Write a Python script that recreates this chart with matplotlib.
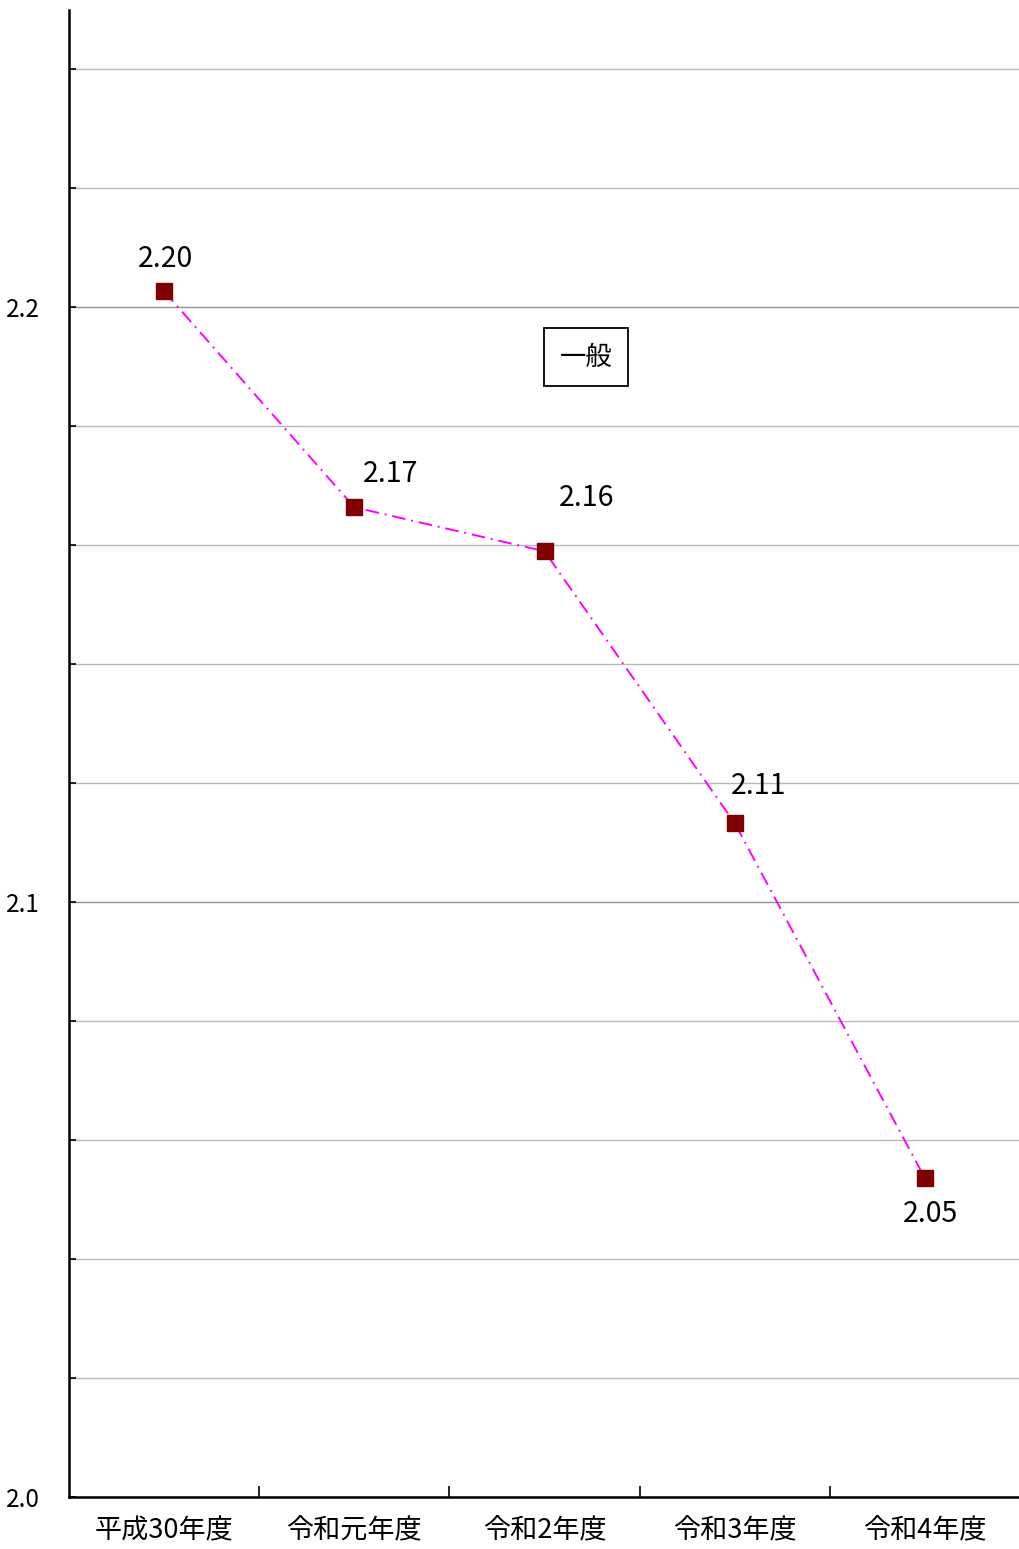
import numpy as np
import matplotlib.pyplot as plt
from matplotlib.ticker import MultipleLocator, FixedLocator, NullFormatter

plt.rcParams['font.family'] = ['Noto Sans CJK JP', 'DejaVu Sans']

# data
categories = ['平成30年度', '令和元年度', '令和2年度', '令和3年度', '令和4年度']
values = [2.2027, 2.1664, 2.1590, 2.1133, 2.0536]
series_name = '一般'

# label offsets (points) relative to each marker
label_offsets = [(1, 23), (26, 24), (30, 38), (17, 27), (4, -26)]

fig = plt.figure(figsize=(10.2, 15.49), dpi=100)
ax = fig.add_axes([69/1020, 52/1549, 951/1020, 1487/1549])

x = np.arange(len(categories))
ax.plot(x, values, color='#ff00ff', lw=1.4, linestyle=(0, (7, 3, 1, 3)),
        marker='s', markersize=11, markerfacecolor='#800000',
        markeredgecolor='#800000', zorder=3)

for xi, v, off in zip(x, values, label_offsets):
    ax.annotate('%.2f' % v, (xi, v), xytext=off, textcoords='offset points',
                ha='center', va='center', fontsize=20.5)

ax.set_xlim(-0.5, len(categories) - 0.5)
ax.set_ylim(2.0, 2.25)

# y axis: gridlines every 0.02, labels at 0.1
ax.yaxis.set_major_locator(FixedLocator([2.0, 2.1, 2.2]))
ax.yaxis.set_major_formatter(plt.FuncFormatter(lambda v, p: '%.1f' % v))
ax.yaxis.set_minor_locator(MultipleLocator(0.02))
ax.tick_params(axis='y', which='both', direction='in', length=5, width=1.2)
ax.tick_params(axis='y', which='major', labelsize=17.5, pad=21)
ax.grid(axis='y', which='minor', color='#b8b8b8', lw=1)
ax.grid(axis='y', which='major', color='#909090', lw=1)

# x axis: ticks between categories, labels at centres
ax.xaxis.set_major_locator(FixedLocator(np.arange(0.5, len(categories) - 0.5)))
ax.xaxis.set_major_formatter(NullFormatter())
ax.xaxis.set_minor_locator(FixedLocator(x))
ax.set_xticklabels(categories, minor=True)
ax.tick_params(axis='x', which='major', direction='in', length=8, width=1.2)
ax.tick_params(axis='x', which='minor', length=0, labelsize=19.5, pad=15)

for s in ['top', 'right']:
    ax.spines[s].set_visible(False)
for s in ['left', 'bottom']:
    ax.spines[s].set_linewidth(1.8)

ax.text(0.5436, 0.7666, series_name, transform=ax.transAxes, ha='center',
        va='center', fontsize=19,
        bbox=dict(boxstyle='square,pad=0.6', fc='white', ec='black', lw=1.3))

fig.savefig('out.png', dpi=100)
